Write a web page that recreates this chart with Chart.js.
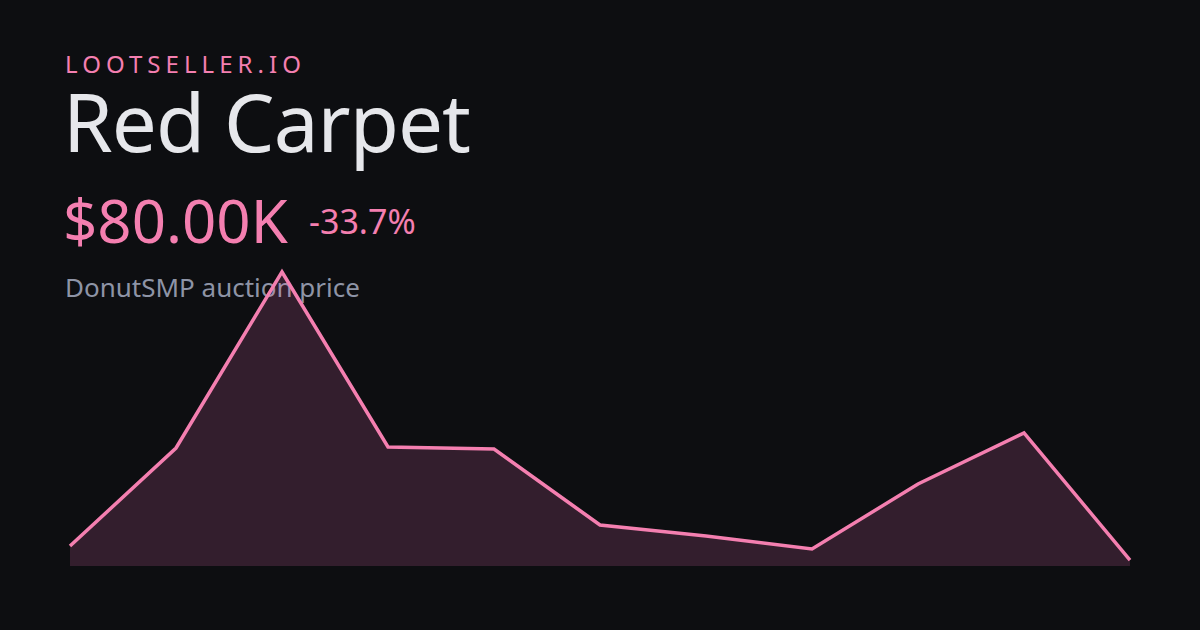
<!DOCTYPE html>
<html>
<head>
<meta charset="utf-8">
<script src="https://cdn.jsdelivr.net/npm/chart.js@4.4.1/dist/chart.umd.min.js"></script>
<style>
  html, body { margin: 0; padding: 0; background: #0d0e11; }
  #wrap { position: relative; width: 1200px; height: 630px; overflow: hidden; font-family: "Noto Sans", sans-serif; }
  .t { position: absolute; line-height: 1; white-space: nowrap; margin: 0; }
  #brand { left: 65px; top: 52px; font-size: 24px; color: #f47fb0; letter-spacing: 0.21em; }
  #title { left: 63px; top: 81px; font-size: 80px; color: #e6e7eb; letter-spacing: -0.012em; }
  #price { left: 63px; top: 190px; font-size: 60px; color: #f47fb0; }
  #change { left: 309px; top: 204px; font-size: 34px; color: #f47fb0; }
  #sub { left: 65px; top: 274px; font-size: 26px; color: #8e94a6; }
  #myChart { position: absolute; left: 0; top: 0; }
</style>
</head>
<body>
<div id="wrap">
  <div class="t" id="brand">LOOTSELLER.IO</div>
  <div class="t" id="title">Red Carpet</div>
  <div class="t" id="price">$80.00K</div>
  <div class="t" id="change">-33.7%</div>
  <div class="t" id="sub">DonutSMP auction price</div>
  <canvas id="myChart" width="1200" height="630"></canvas>
</div>
<script>
// prix en milliers de $
var xValues = ["1", "2", "3", "4", "5", "6", "7", "8", "9", "10", "11"];
var yValues = [120.7, 405.2, 916.4, 408.1, 402.3, 181.6, 149.7, 111.9, 300.7, 448.8, 80.0];
var yMin = 62.6;
var yMax = 980.2;

new Chart("myChart", {
  type: "line",
  data: {
    labels: xValues,
    datasets: [{
      data: yValues,
      borderColor: "#f47fb0",
      borderWidth: 3.5,
      backgroundColor: "rgba(244,114,182,0.17)",
      fill: "start",
      pointRadius: 0,
      tension: 0,
      clip: false
    }]
  },
  options: {
    responsive: false,
    animation: false,
    layout: { padding: { left: 70, right: 70, top: 250, bottom: 64 } },
    plugins: { legend: { display: false }, tooltip: { enabled: false } },
    scales: {
      x: { display: false, offset: false },
      y: { display: false, min: yMin, max: yMax }
    }
  }
});
</script>
</body>
</html>
